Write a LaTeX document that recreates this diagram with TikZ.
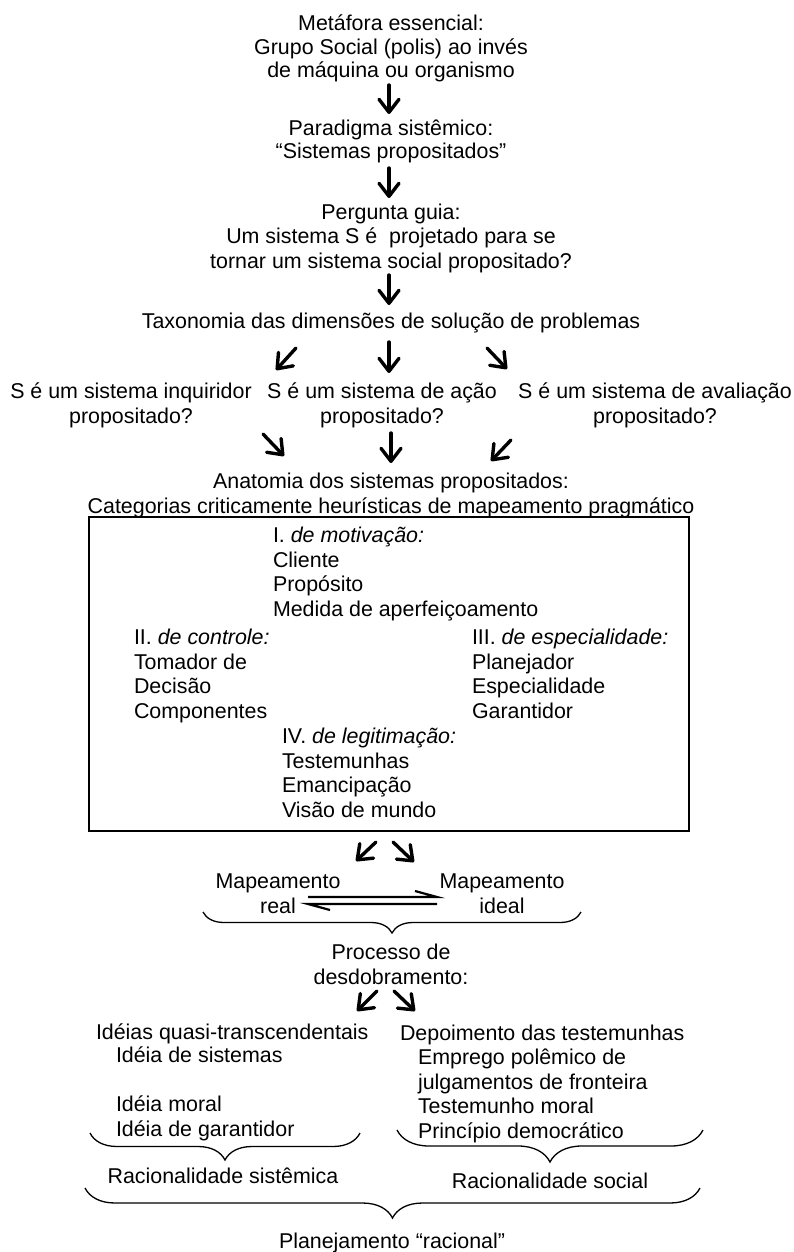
\documentclass[tikz,border=0pt]{standalone}
\usepackage{fontspec}
\setmainfont{Liberation Sans}
\usetikzlibrary{arrows.meta,decorations.pathreplacing}
\tikzset{
  txt/.style={inner sep=0pt, outer sep=0pt, align=center, anchor=base, font=\fontsize{21.4}{24.4}\selectfont},
  ltxt/.style={inner sep=0pt, outer sep=0pt, align=left, anchor=base west, font=\fontsize{21.4}{24.4}\selectfont},
  arr/.style={line width=3.4pt, line cap=round, -{Straight Barb[length=13pt,width=20pt,line cap=round,line join=round]}},
  harp/.style={line width=2.2pt},
  brc/.style={line width=1.3pt, decorate},
  frame/.style={draw, line width=1.3pt, inner sep=0pt}
}
\begin{document}
\begin{tikzpicture}[x=1pt,y=-1pt]
\useasboundingbox (0,0) rectangle (794,1252);
% top chain (anchor = baseline of last line)
\node[txt, font=\fontsize{21.4}{23.6}\selectfont] (met) at (391,78) {Metáfora essencial:\\Grupo Social (polis) ao invés\\de máquina ou organismo};
\node[txt, font=\fontsize{21.4}{23}\selectfont] (par) at (391,159) {Paradigma sistêmico:\\“Sistemas propositados”};
\node[txt] (per) at (391,268) {Pergunta guia:\\Um sistema S é\ \ projetado para se\\tornar um sistema social propositado?};
\node[txt] (tax) at (391,328) {Taxonomia das dimensões de solução de problemas};
\coordinate (a1s) at (389,85); \coordinate (a1e) at (389,114);
\coordinate (a2s) at (389,168); \coordinate (a2e) at (389,198);
\coordinate (a3s) at (389,275); \coordinate (a3e) at (389,305);
\draw[arr] (a1s) -- (a1e);
\draw[arr] (a2s) -- (a2e);
\draw[arr] (a3s) -- (a3e);
% three questions
\node[txt] (q1) at (131,423) {S é um sistema inquiridor\\propositado?};
\node[txt] (q2) at (382,423) {S é um sistema de ação\\propositado?};
\node[txt] (q3) at (655,423) {S é um sistema de avaliação\\propositado?};
\coordinate (t1s) at (296,348); \coordinate (t1e) at (276,370);
\coordinate (t2s) at (389,342); \coordinate (t2e) at (389,373);
\coordinate (t3s) at (487,348); \coordinate (t3e) at (507,369);
\draw[arr] (t1s) -- (t1e);
\draw[arr] (t2s) -- (t2e);
\draw[arr] (t3s) -- (t3e);
\coordinate (u1s) at (263,434); \coordinate (u1e) at (284,456);
\coordinate (u2s) at (391,433); \coordinate (u2e) at (391,463);
\coordinate (u3s) at (511,440); \coordinate (u3e) at (491,461);
\draw[arr] (u1s) -- (u1e);
\draw[arr] (u2s) -- (u2e);
\draw[arr] (u3s) -- (u3e);
% anatomy
\node[txt] (ana) at (391,513) {Anatomia dos sistemas propositados:\\Categorias criticamente heurísticas de mapeamento pragmático};
\node[frame, minimum width=600pt, minimum height=314pt] (box) at (389,674) {};
\node[ltxt] (c1) at (273,616) {I. \textit{de motivação:}\\Cliente\\Propósito\\Medida de aperfeiçoamento};
\node[ltxt] (c2) at (134,718) {II. \textit{de controle:}\\Tomador de\\Decisão\\Componentes};
\node[ltxt] (c3) at (472,718) {III. \textit{de especialidade:}\\Planejador\\Especialidade\\Garantidor};
\node[ltxt] (c4) at (282,817) {IV. \textit{de legitimação:}\\Testemunhas\\Emancipação\\Visão de mundo};
% mapping
\coordinate (b1s) at (376,842); \coordinate (b1e) at (356,861);
\coordinate (b2s) at (393,842); \coordinate (b2e) at (414,862);
\draw[arr] (b1s) -- (b1e);
\draw[arr] (b2s) -- (b2e);
\node[txt] (mr) at (278,913) {Mapeamento\\real};
\node[txt] (mi) at (502,913) {Mapeamento\\ideal};
\coordinate (hl1) at (308,897); \coordinate (hr1) at (437,897);
\coordinate (hl2) at (308,904); \coordinate (hr2) at (437,904);
\draw[harp] (hl1) -- (hr1) -- ++(-22,-6);
\draw[harp] (hr2) -- (hl2) -- ++(22,6);
\coordinate (br1l) at (203,912); \coordinate (br1r) at (581,912);
\draw[brc, decoration={brace, mirror, amplitude=21pt}] (br1l) -- (br1r);
\node[txt] (pro) at (391,984) {Processo de\\desdobramento:};
\coordinate (d1s) at (377,991); \coordinate (d1e) at (357,1011);
\coordinate (d2s) at (394,991); \coordinate (d2e) at (415,1011);
\draw[arr] (d1s) -- (d1e);
\draw[arr] (d2s) -- (d2e);
% lower lists
\node[ltxt] (id0) at (96,1039) {Idéias quasi-transcendentais};
\node[ltxt] (id1) at (116,1136) {Idéia de sistemas\\[24.4pt]Idéia moral\\Idéia de garantidor};
\node[ltxt] (dp0) at (400,1040) {Depoimento das testemunhas};
\node[ltxt] (dp1) at (418,1138) {Emprego polêmico de\\julgamentos de fronteira\\Testemunho moral\\Princípio democrático};
\coordinate (br2l) at (90,1133); \coordinate (br2r) at (360,1133);
\coordinate (br3l) at (397,1130); \coordinate (br3r) at (703,1130);
\draw[brc, decoration={brace, mirror, amplitude=27pt}] (br2l) -- (br2r);
\draw[brc, decoration={brace, mirror, amplitude=32pt}] (br3l) -- (br3r);
\node[txt] (rs1) at (223,1183) {Racionalidade sistêmica};
\node[txt] (rs2) at (550,1188) {Racionalidade social};
\coordinate (br4l) at (85,1188); \coordinate (br4r) at (700,1188);
\draw[brc, decoration={brace, mirror, amplitude=30pt}] (br4l) -- (br4r);
\node[txt] (pla) at (392,1248) {Planejamento “racional”};
\end{tikzpicture}
\end{document}
